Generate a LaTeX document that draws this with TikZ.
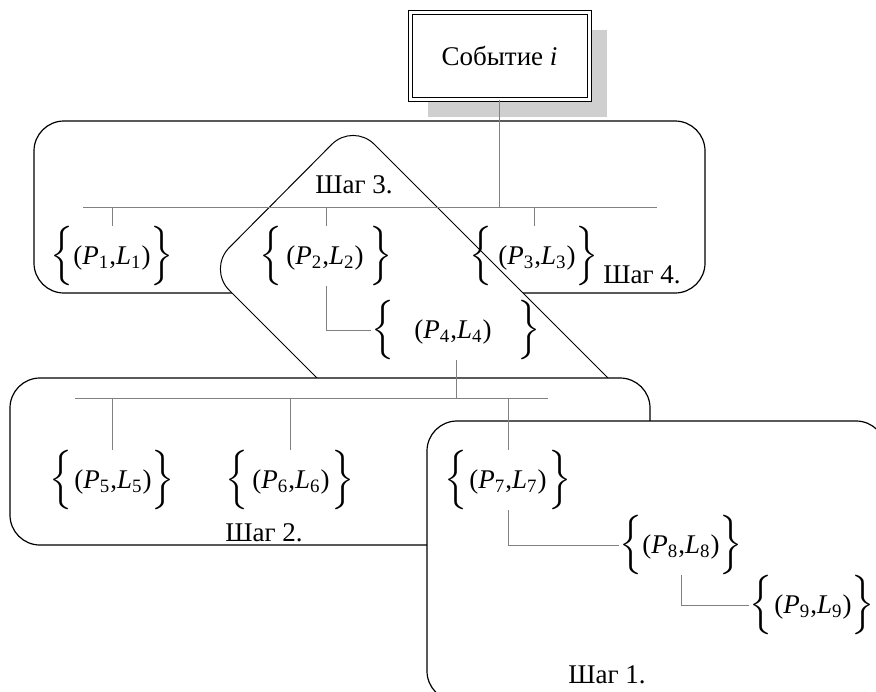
\documentclass[tikz,border=0pt]{standalone}
\usepackage{amsmath}
\usepackage{graphicx}
\usepackage{fontspec}
\setmainfont{Liberation Serif}
\usetikzlibrary{shadows}
\nulldelimiterspace=0pt
\newcommand{\brh}{\vcenter{\hbox{\rule{0pt}{24pt}}}}
\newcommand{\lbr}{\scalebox{1.2}[1.15]{$\left\{\brh\right.$}}
\newcommand{\rbr}{\scalebox{1.2}[1.15]{$\left.\brh\right\}$}}
\newcommand{\evpair}[3]{\lbr\hspace{#2}(\textit{P}\textsubscript{#1},\textit{L}\textsubscript{#1})\hspace{#3}\rbr}

\begin{document}
\begin{tikzpicture}[x=0.5pt, y=-0.5pt,
    every node/.style={inner sep=0pt, font=\fontsize{13.5}{16}\selectfont},
    stepbox/.style={draw, fill=white, line width=0.6pt, rounded corners=15pt},
    link/.style={draw=gray, line width=0.5pt},
    event/.style={draw, fill=white, double, double distance=1.5pt, line width=0.5pt,
        minimum width=89.5pt, minimum height=43.5pt,
        drop shadow={shadow xshift=9pt, shadow yshift=-9pt, fill=black!19, opacity=1}}]
            \useasboundingbox (0,0) rectangle (876,691);
            \clip (0,0) rectangle (876,691);

            \draw[stepbox] (34,121) rectangle (705,293);
            \draw[stepbox, line width=0.5pt] (353,123) -- (208,269) -- (488,549) -- (633,403) -- cycle;
            \draw[stepbox] (10,378) rectangle (650,545);
            \draw[stepbox] (427,421) rectangle (886,701);

            \node[event] (ev) at (499.5,55.5) {Событие \textit{i}};
            \node (p1) at (112,256) {\evpair{1}{0pt}{0pt}};
            \node (p2) at (326,256) {\evpair{2}{2pt}{3pt}};
            \node (p3) at (534,256) {\evpair{3}{3pt}{0pt}};
            \node (p4) at (456,330) {\evpair{4}{10pt}{13pt}};
            \node (p5) at (112,480) {\evpair{5}{1pt}{0pt}};
            \node (p6) at (290,480) {\evpair{6}{2pt}{1pt}};
            \node (p7) at (508,480) {\evpair{7}{1pt}{1pt}};
            \node (p8) at (681,545) {\evpair{8}{0pt}{0pt}};
            \node (p9) at (812,605) {\evpair{9}{1pt}{0pt}};

            \node (st4) at (642,275) {Шаг 4.};
            \node (st3) at (354,185) {Шаг 3.};
            \node (st2) at (264,533) {Шаг 2.};
            \node (st1) at (607,675) {Шаг 1.};

            \coordinate (bus4w) at (83,207);
            \coordinate (bus4e) at (657,207);
            \coordinate (bus2w) at (75,398);
            \coordinate (bus2e) at (548,398);

            \draw[link] (bus4w) -- (bus4e);
            \draw[link] (ev.south) -- (ev |- bus4w);
            \draw[link] (p1.north) -- (p1 |- bus4w);
            \draw[link] (p2.north) -- (p2 |- bus4w);
            \draw[link] (p3.north) -- (p3 |- bus4w);
            \draw[link] (p2.south) |- (p4.west);
            \draw[link] (bus2w) -- (bus2e);
            \draw[link] (p4.south) -- (p4 |- bus2w);
            \draw[link] (p5.north) -- (p5 |- bus2w);
            \draw[link] (p6.north) -- (p6 |- bus2w);
            \draw[link] (p7.north) -- (p7 |- bus2w);
            \draw[link] (p7.south) |- (p8.west);
            \draw[link] (p8.south) |- (p9.west);
        \end{tikzpicture}
\end{document}
